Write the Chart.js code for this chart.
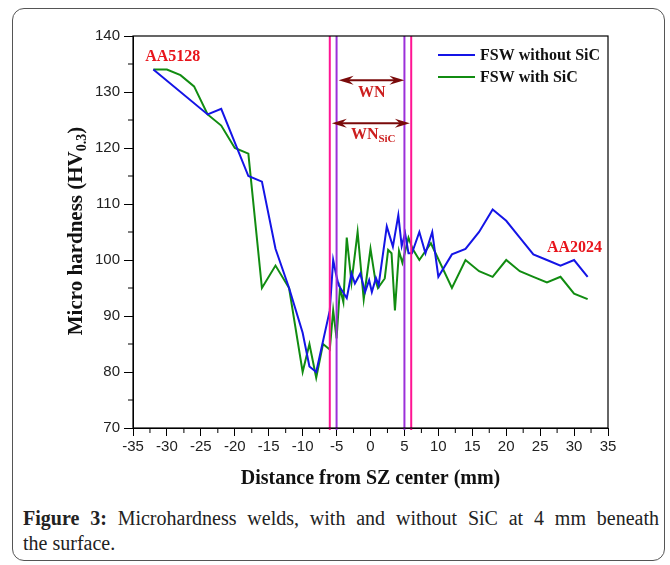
<!DOCTYPE html>
<html>
<head>
<meta charset="utf-8">
<script src="https://cdn.jsdelivr.net/npm/chart.js@4/dist/chart.umd.min.js"></script>
<style>
  body { margin: 0; background: #fff; }
  #frame { position: absolute; left: 12px; top: 8px; width: 651px; height: 551px; border: 1px solid #555; border-radius: 12px; }
  #wrap { position: absolute; left: 0; top: 0; width: 670px; height: 500px; }
  #caption { position: absolute; left: 23px; top: 506px; width: 636px; font-family: "Liberation Serif", serif; font-size: 20px; line-height: 25px; color: #222; }
  #caption .l1 { display: block; text-align: justify; text-align-last: justify; }
</style>
</head>
<body>
<div id="frame"></div>
<div id="wrap"><canvas id="hardnessChart" width="670" height="500"></canvas></div>
<div id="caption"><span class="l1"><b>Figure 3:</b> Microhardness welds, with and without SiC at 4 mm beneath</span>the surface.</div>
<script>
// series
const seriesNames = ['FSW without SiC', 'FSW with SiC'];
const xNoSiC = [-32, -24, -22, -18, -16, -14, -12, -10, -9, -8, -6, -5.5, -5.1, -4.7, -3.5, -2.8, -2.3, -1.5, -0.8, -0.2, 0.2, 0.8, 1.2, 2.4, 3.3, 4.1, 4.6, 5.1, 5.6, 6.1, 7.2, 8.1, 9.1, 10, 12, 14, 16, 18, 20, 22, 24, 26, 28, 30, 32];
const hvNoSiC = [134, 126, 127, 115, 114, 102, 95, 87, 81, 80, 91, 100, 97.6, 95.5, 93.2, 97.6, 95.8, 97.6, 94.3, 96.4, 94.3, 96.8, 95.5, 106, 102.4, 108, 102.5, 104.8, 101.2, 101.2, 105, 101.2, 105, 97, 101, 102, 105, 109, 107, 104, 101, 100, 99, 100, 97];
const xSiC = [-32, -30, -28, -26, -24, -22, -20, -18, -16, -14, -12, -10, -9, -8, -7, -6, -5.5, -5, -4.5, -4, -3.5, -2.8, -1.9, -1, 0, 0.7, 1.1, 2.1, 2.6, 3.1, 3.6, 4.2, 4.7, 5.6, 6.2, 7.2, 8.9, 12, 14, 16, 18, 20, 22, 24, 26, 28, 30, 32];
const hvSiC = [134, 134, 133, 131, 126, 124, 120, 119, 95, 99, 95, 80, 85, 79, 85, 84, 91, 86, 95, 92.5, 104, 96, 105, 93, 102, 96.5, 95, 96.7, 101.8, 101.2, 91, 101.6, 99.5, 104, 102, 100, 103, 95, 100, 98, 97, 100, 98, 97, 96, 97, 94, 93];

// axis ranges and zone limits
const xRange = [-35, 35];
const yRange = [70, 140];
const wnEdges = [-5, 5];
const wnSicEdges = [-6, 6];

const toPoints = (xs, ys) => xs.map((v, i) => ({x: v, y: ys[i]}));

const serif = '"Liberation Serif", serif';

function drawArrow(ctx, x1, x2, yy) {
  ctx.beginPath();
  ctx.moveTo(x1 + 8, yy);
  ctx.lineTo(x2 - 8, yy);
  ctx.stroke();
  [[x1, 1], [x2, -1]].forEach(([hx, d]) => {
    ctx.beginPath();
    ctx.moveTo(hx, yy);
    ctx.lineTo(hx + d * 15, yy - 4.5);
    ctx.lineTo(hx + d * 10, yy);
    ctx.lineTo(hx + d * 15, yy + 4.5);
    ctx.closePath();
    ctx.fill();
  });
}

const decorations = {
  id: 'decorations',
  afterDatasetsDraw(chart) {
    const {ctx, chartArea: a, scales: {x, y}} = chart;
    ctx.save();

    // zone boundaries
    ctx.lineWidth = 2;
    ctx.strokeStyle = '#ff1493';
    wnSicEdges.forEach(v => {
      const px = x.getPixelForValue(v);
      ctx.beginPath(); ctx.moveTo(px, a.top); ctx.lineTo(px, a.bottom + 2); ctx.stroke();
    });
    ctx.strokeStyle = '#9b30d9';
    wnEdges.forEach(v => {
      const px = x.getPixelForValue(v);
      ctx.beginPath(); ctx.moveTo(px, a.top); ctx.lineTo(px, a.bottom + 2); ctx.stroke();
    });

    // frame of the plot
    ctx.lineWidth = 1.2;
    ctx.strokeStyle = '#000';
    ctx.strokeRect(a.left, a.top, a.right - a.left, a.bottom - a.top);

    // minor ticks
    ctx.lineWidth = 1;
    for (let v = xRange[0] + 2.5; v < xRange[1]; v += 5) {
      const px = x.getPixelForValue(v);
      ctx.beginPath(); ctx.moveTo(px, a.bottom); ctx.lineTo(px, a.bottom + 5); ctx.stroke();
    }
    for (let v = yRange[0] + 5; v < yRange[1]; v += 10) {
      const py = y.getPixelForValue(v);
      ctx.beginPath(); ctx.moveTo(a.left, py); ctx.lineTo(a.left - 5, py); ctx.stroke();
    }

    // WN arrows
    ctx.strokeStyle = '#7a0a0a';
    ctx.fillStyle = '#7a0a0a';
    ctx.lineWidth = 2;
    drawArrow(ctx, x.getPixelForValue(-4.7), x.getPixelForValue(5), y.getPixelForValue(132.1));
    drawArrow(ctx, x.getPixelForValue(-5.7), x.getPixelForValue(5.8), y.getPixelForValue(124.4));

    ctx.fillStyle = '#cc1f1f';
    ctx.textBaseline = 'middle';
    ctx.textAlign = 'center';
    ctx.font = 'bold 16px ' + serif;
    ctx.fillText('WN', x.getPixelForValue(0.2), y.getPixelForValue(129.9));
    const wnW = ctx.measureText('WN').width;
    ctx.font = 'bold 11px ' + serif;
    const subW = ctx.measureText('SiC').width;
    const cx = x.getPixelForValue(0.4) - (wnW + subW) / 2;
    ctx.textAlign = 'left';
    ctx.font = 'bold 16px ' + serif;
    ctx.fillText('WN', cx, y.getPixelForValue(122.4));
    ctx.font = 'bold 11px ' + serif;
    ctx.fillText('SiC', cx + wnW, y.getPixelForValue(121.5));

    // alloy labels
    ctx.fillStyle = '#e8141b';
    ctx.font = 'bold 16px ' + serif;
    ctx.fillText('AA5128', x.getPixelForValue(-33.2), y.getPixelForValue(136.3));
    ctx.fillText('AA2024', x.getPixelForValue(26), y.getPixelForValue(102.1));

    // legend
    chart.data.datasets.forEach((ds, i) => {
      const ly = 55 + i * 22;
      ctx.strokeStyle = ds.borderColor;
      ctx.lineWidth = 2;
      ctx.beginPath(); ctx.moveTo(438, ly); ctx.lineTo(475, ly); ctx.stroke();
      ctx.fillStyle = '#111';
      ctx.font = 'bold 16px ' + serif;
      ctx.fillText(ds.label, 480, ly + 1);
    });

    // y axis title with subscript
    ctx.translate(75, 231);
    ctx.rotate(-Math.PI / 2);
    ctx.textBaseline = 'alphabetic';
    ctx.fillStyle = '#111';
    ctx.font = 'bold 21px ' + serif;
    const t1 = 'Micro hardness (HV', t3 = ')';
    const w1 = ctx.measureText(t1).width, w3 = ctx.measureText(t3).width;
    ctx.font = 'bold 14px ' + serif;
    const w2 = ctx.measureText('0.3').width;
    let sx = -(w1 + w2 + w3) / 2;
    ctx.font = 'bold 21px ' + serif;
    ctx.fillText(t1, sx, 7);
    ctx.font = 'bold 14px ' + serif;
    ctx.fillText('0.3', sx + w1, 11);
    ctx.font = 'bold 21px ' + serif;
    ctx.fillText(t3, sx + w1 + w2, 7);

    ctx.restore();
  }
};

const hardnessCanvas = document.getElementById('hardnessChart');

const hardnessChart = new Chart(hardnessCanvas, {
  type: 'scatter',
  data: {
    datasets: [{
      label: seriesNames[0],
      data: toPoints(xNoSiC, hvNoSiC),
      showLine: true,
      borderColor: '#1414e6',
      borderWidth: 2,
      pointRadius: 0,
      tension: 0
    }, {
      label: seriesNames[1],
      data: toPoints(xSiC, hvSiC),
      showLine: true,
      borderColor: '#118c11',
      borderWidth: 2,
      pointRadius: 0,
      tension: 0
    }]
  },
  options: {
    responsive: false,
    animation: false,
    layout: { padding: { left: 0, top: 36, right: 62, bottom: 0 } },
    plugins: {
      legend: { display: false },
      tooltip: { enabled: false }
    },
    scales: {
      x: {
        type: 'linear',
        min: xRange[0],
        max: xRange[1],
        afterFit: scale => { scale.height = 72; },
        ticks: {
          stepSize: 5,
          padding: 2,
          color: '#222',
          font: { family: '"Liberation Sans", sans-serif', size: 15 },
          maxRotation: 0
        },
        grid: { drawOnChartArea: false, tickLength: 8, tickColor: '#000' },
        border: { color: '#000', width: 1 },
        title: {
          display: true,
          text: 'Distance from SZ center (mm)',
          color: '#111',
          font: { family: serif, size: 20, weight: 'bold' },
          padding: { top: 4, bottom: 9 }
        }
      },
      y: {
        min: yRange[0],
        max: yRange[1],
        afterFit: scale => { scale.width = 133; },
        ticks: {
          stepSize: 10,
          padding: 4,
          color: '#222',
          font: { family: '"Liberation Sans", sans-serif', size: 15 }
        },
        grid: { drawOnChartArea: false, tickLength: 9, tickColor: '#000' },
        border: { color: '#000', width: 1 }
      }
    }
  },
  plugins: [decorations]
});
</script>
</body>
</html>
